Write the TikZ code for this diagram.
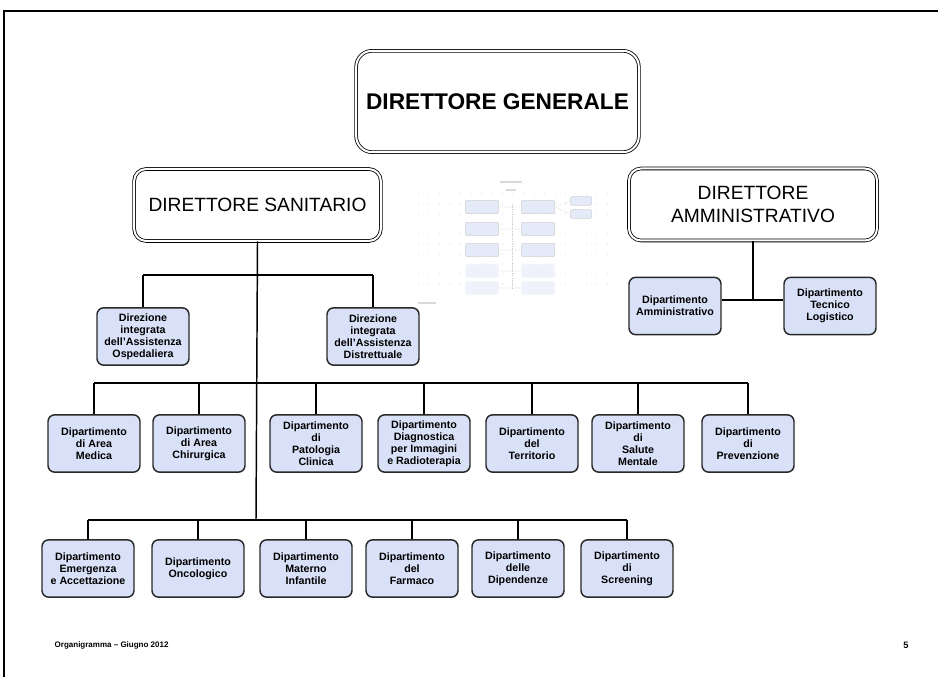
\documentclass[tikz,border=0pt]{standalone}
\usepackage{fontspec}
\setmainfont{Liberation Sans}
\usetikzlibrary{positioning}
\definecolor{boxblue}{RGB}{216,225,247}
\definecolor{boxline}{RGB}{40,40,40}
\definecolor{miniblue}{RGB}{228,234,248}
\tikzstyle{head_node} = [
    rectangle,
    rounded corners=9pt,
    draw=black,
    double,
    double distance=1.5pt, % gives the two thin outlines
    line width=0.6pt,
    fill=white,
    align=center,
    inner sep=2pt
]
\tikzstyle{dip_node} = [
    rectangle,
    rounded corners=5pt,
    draw=boxline,
    fill=boxblue,
    line width=1.1pt,
    font=\fontsize{8}{9}\selectfont\bfseries,
    align=center,
    inner sep=1pt,
    minimum width=69pt,
    minimum height=43pt
]
\tikzstyle{mini_box} = [
    rectangle,
    rounded corners=1.5pt,
    draw=gray!35,
    fill=miniblue,
    line width=0.4pt,
    minimum width=25pt,
    minimum height=10pt
]
\tikzstyle{link} = [line width=1.1pt]

\begin{document}
\begin{tikzpicture}[x=0.75pt, y=-0.75pt]
\useasboundingbox (0,0) rectangle (938,677);
\fill[white] (0,0) rectangle (938,677);
\draw[line width=1pt] (4,11) rectangle (950,690);

% thumbnail of the previous slide
\foreach \i in {0,...,19} {
    \foreach \j in {0,...,10} {
        \fill[gray!30] (408+10.5*\i, 184+10*\j) circle (0.6);
    }
}
\node [mini_box] (t1) at (482,207) {};
\node [mini_box] (t2) at (482,229) {};
\node [mini_box] (t3) at (482,250) {};
\node [mini_box, draw=none, fill=miniblue!60] (t4) at (482,271) {};
\node [mini_box, draw=none, fill=miniblue!60] (t5) at (482,288) {};
\node [mini_box] (u1) at (538,207) {};
\node [mini_box] (u2) at (538,229) {};
\node [mini_box] (u3) at (538,250) {};
\node [mini_box, draw=none, fill=miniblue!60] (u4) at (538,271) {};
\node [mini_box, draw=none, fill=miniblue!60] (u5) at (538,288) {};
\node [mini_box, minimum width=16pt, minimum height=6pt] (v1) at (581,201) {};
\node [mini_box, minimum width=16pt, minimum height=6pt] (v2) at (581,214) {};
\draw[gray!45, densely dotted, line width=0.6pt] (512,205) -- (512,290);
\draw[gray!45, densely dotted, line width=0.4pt]
    (t1.east) -- (u1.west) (t2.east) -- (u2.west) (t3.east) -- (u3.west)
    (t4.east) -- (u4.west) (t5.east) -- (u5.west)
    (u1.east) -- (v1.west) (u1.east) -- (v2.west);
\fill[gray!30] (500,181) rectangle (522,183);
\fill[gray!30] (506,189) rectangle (516,191);
\fill[gray!30] (418,302) rectangle (436,304);

% top level
\node [head_node, rounded corners=12pt, minimum width=212pt, minimum height=76pt,
    font=\fontsize{17}{20}\selectfont\bfseries] (dg) at (497.5,101.5)
    {DIRETTORE GENERALE};
\node [head_node, minimum width=185pt, minimum height=54pt,
    font=\fontsize{14.4}{17.5}\selectfont] (ds) at (257.5,205)
    {DIRETTORE SANITARIO};
\node [head_node, minimum width=186pt, minimum height=54pt,
    font=\fontsize{14.4}{17.5}\selectfont] (da) at (753,204.5)
    {DIRETTORE\\AMMINISTRATIVO};

% direzioni integrate
\node [dip_node] (dio) at (143,336.5)
    {Direzione\\integrata\\dell'Assistenza\\Ospedaliera};
\node [dip_node] (did) at (373,336.5)
    {Direzione\\integrata\\dell'Assistenza\\Distrettuale};

% amministrazione
\node [dip_node] (amm) at (675,306) {Dipartimento\\Amministrativo};
\node [dip_node] (tec) at (830,306) {Dipartimento\\Tecnico\\Logistico};

% first row of departments
\node [dip_node] (med) at (94,443.5) {Dipartimento\\di Area\\Medica};
\node [dip_node] (chi) at (199,443.5) {Dipartimento\\di Area\\Chirurgica};
\node [dip_node] (pat) at (316,443.5) {Dipartimento\\di\\Patologia\\Clinica};
\node [dip_node] (dia) at (424,443.5)
    {Dipartimento\\Diagnostica\\per Immagini\\e Radioterapia};
\node [dip_node] (ter) at (532,443.5) {Dipartimento\\del\\Territorio};
\node [dip_node] (sal) at (638,443.5) {Dipartimento\\di\\Salute\\Mentale};
\node [dip_node] (pre) at (748,443.5) {Dipartimento\\di\\Prevenzione};

% second row of departments
\node [dip_node] (eme) at (88,568.5) {Dipartimento\\Emergenza\\e Accettazione};
\node [dip_node] (onc) at (198,568.5) {Dipartimento\\Oncologico};
\node [dip_node] (mat) at (306,568.5) {Dipartimento\\Materno\\Infantile};
\node [dip_node] (far) at (412,568.5) {Dipartimento\\del\\Farmaco};
\node [dip_node] (dip) at (518,568.5) {Dipartimento\\delle\\Dipendenze};
\node [dip_node] (scr) at (627,568.5) {Dipartimento\\di\\Screening};

% bus lines
\coordinate (busdir) at (256,275);
\coordinate (busone) at (256,383);
\coordinate (bustwo) at (256,520);
\coordinate (busamm) at (753,300);

\draw[link] (ds.south) -- (bustwo);
\draw[link] (dio.north |- busdir) -- (did.north |- busdir);
\draw[link] (dio.north) -- (dio.north |- busdir);
\draw[link] (did.north) -- (did.north |- busdir);

\draw[link] (med.north |- busone) -- (pre.north |- busone);
\draw[link] (med.north) -- (med.north |- busone);
\draw[link] (chi.north) -- (chi.north |- busone);
\draw[link] (pat.north) -- (pat.north |- busone);
\draw[link] (dia.north) -- (dia.north |- busone);
\draw[link] (ter.north) -- (ter.north |- busone);
\draw[link] (sal.north) -- (sal.north |- busone);
\draw[link] (pre.north) -- (pre.north |- busone);

\draw[link] (eme.north |- bustwo) -- (scr.north |- bustwo);
\draw[link] (eme.north) -- (eme.north |- bustwo);
\draw[link] (onc.north) -- (onc.north |- bustwo);
\draw[link] (mat.north) -- (mat.north |- bustwo);
\draw[link] (far.north) -- (far.north |- bustwo);
\draw[link] (dip.north) -- (dip.north |- bustwo);
\draw[link] (scr.north) -- (scr.north |- bustwo);

\draw[link] (da.south) -- (busamm);
\draw[link] (amm.east |- busamm) -- (tec.west |- busamm);

% footer
\node [anchor=west, font=\fontsize{6}{7}\selectfont\bfseries] (foot) at (50,645)
    {Organigramma -- Giugno 2012};
\node [font=\fontsize{7}{8}\selectfont\bfseries] (page) at (906,645) {5};
\end{tikzpicture}
\end{document}
